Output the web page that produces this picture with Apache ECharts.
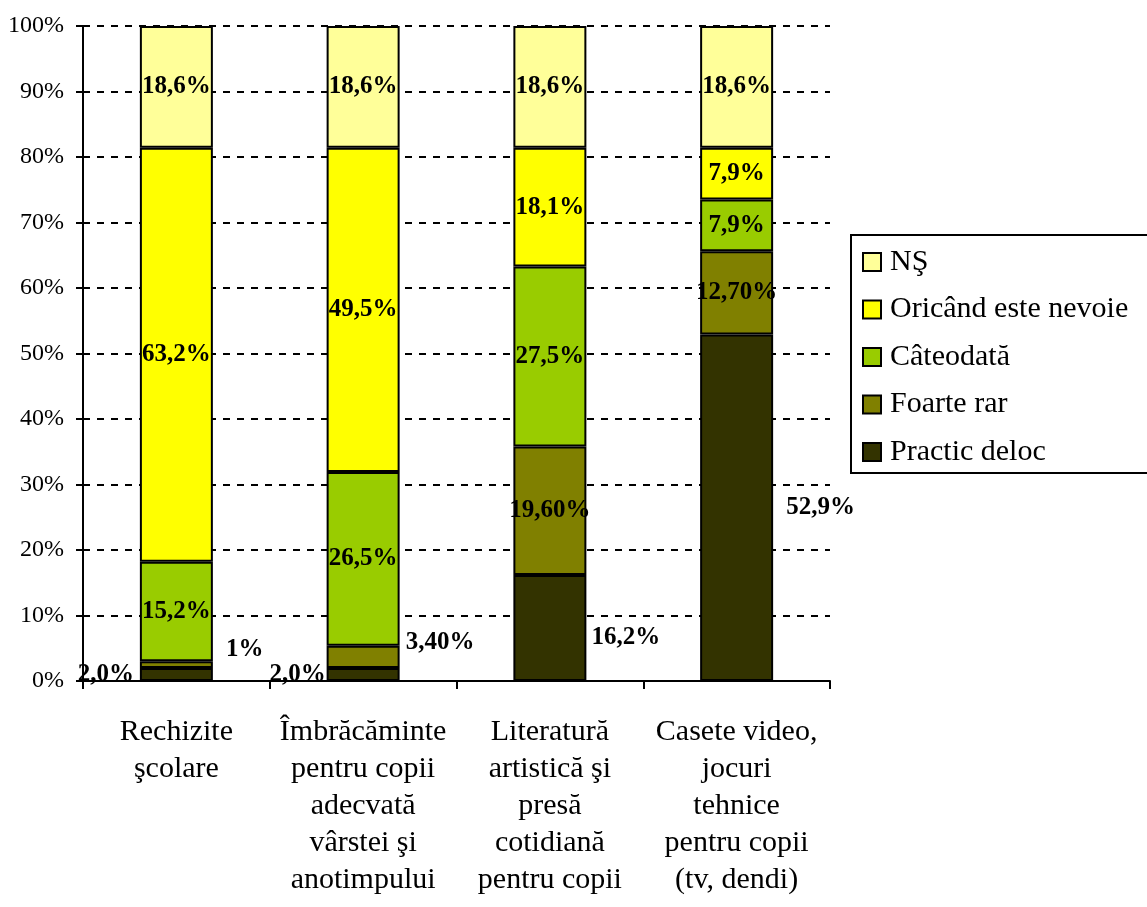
<!DOCTYPE html>
<html>
<head>
<meta charset="utf-8">
<script src="https://cdn.jsdelivr.net/npm/echarts@6/dist/echarts.min.js"></script>
<style>
  html, body { margin: 0; background: #fff; }
  #chart { width: 1147px; height: 907px; }
</style>
</head>
<body>
<div id="chart"></div>
<script>
// categorii
const categories = [
  'Rechizite\nşcolare',
  'Îmbrăcăminte\npentru copii\nadecvată\nvârstei şi\nanotimpului',
  'Literatură\nartistică şi\npresă\ncotidiană\npentru copii',
  'Casete video,\njocuri\ntehnice\npentru copii\n(tv, dendi)'
]

// valori (%), de jos in sus
const practicDeloc = [2.0, 2.0, 16.2, 52.9]
const foarteRar = [1.0, 3.4, 19.6, 12.7]
const cateodata = [15.2, 26.5, 27.5, 7.9]
const oricand = [63.2, 49.5, 18.1, 7.9]
const ns = [18.6, 18.6, 18.6, 18.6]

// etichetele asa cum apar in grafic
const practicDelocLabels = ['2,0%', '2,0%', '16,2%', '52,9%']
const foarteRarLabels = ['1%', '3,40%', '19,60%', '12,70%']
const cateodataLabels = ['15,2%', '26,5%', '27,5%', '7,9%']
const oricandLabels = ['63,2%', '49,5%', '18,1%', '7,9%']
const nsLabels = ['18,6%', '18,6%', '18,6%', '18,6%']

const serif = '"Liberation Serif", "Times New Roman", serif'

// etichete puse in afara barei
const outside = {
  'Practic deloc': [
    { position: 'left', distance: 6 },
    { position: 'left', distance: 1 },
    { position: 'right', distance: 5, offset: [0, 10] },
    { position: 'right', distance: 13 }
  ],
  'Foarte rar': [
    { position: 'right', distance: 13, offset: [0, -15] },
    { position: 'right', distance: 6, offset: [0, -14] },
    null,
    null
  ]
}

const makeSeries = (name, values, labels, color) => ({
  name,
  type: 'bar',
  stack: 'total',
  barWidth: 73,
  itemStyle: { color, borderColor: '#000', borderWidth: 2 },
  label: {
    show: true,
    position: 'inside',
    fontFamily: serif,
    fontWeight: 'bold',
    fontSize: 25,
    color: '#000'
  },
  data: values.map((v, i) => {
    const item = { value: v }
    const o = outside[name] && outside[name][i]
    item.label = Object.assign({ formatter: labels[i] }, o || {})
    return item
  })
})

const chart = echarts.init(document.getElementById('chart'))

chart.setOption({
  animation: false,
  grid: { left: 83, right: 317, top: 26, bottom: 226 },
  legend: {
    orient: 'vertical',
    left: 851,
    top: 235,
    data: ['NŞ', 'Oricând este nevoie', 'Câteodată', 'Foarte rar', 'Practic deloc'],
    icon: 'rect',
    itemWidth: 18,
    itemHeight: 18,
    itemGap: 17.5,
    padding: [12, 40, 6, 11],
    borderColor: '#000',
    borderWidth: 2,
    textStyle: {
      fontFamily: serif,
      fontSize: 30,
      lineHeight: 30,
      color: '#000',
      padding: [0, 0, 0, 4]
    }
  },
  xAxis: {
    type: 'category',
    data: categories,
    axisLine: { lineStyle: { color: '#000', width: 2 } },
    axisTick: { show: true, length: 8, lineStyle: { color: '#000', width: 2 } },
    axisLabel: {
      interval: 0,
      margin: 33,
      fontFamily: serif,
      fontSize: 30,
      lineHeight: 37,
      color: '#000',
      align: 'center'
    }
  },
  yAxis: {
    type: 'value',
    min: 0,
    max: 100,
    interval: 10,
    axisLine: { show: true, lineStyle: { color: '#000', width: 2 } },
    axisTick: { show: true, length: 7, lineStyle: { color: '#000', width: 2 } },
    axisLabel: {
      formatter: '{value}%',
      margin: 19,
      fontFamily: serif,
      fontSize: 24,
      color: '#000'
    },
    splitLine: {
      show: true,
      lineStyle: { color: '#000', width: 2, type: [7, 7] }
    }
  },
  series: [
    makeSeries('Practic deloc', practicDeloc, practicDelocLabels, '#333300'),
    makeSeries('Foarte rar', foarteRar, foarteRarLabels, '#808000'),
    makeSeries('Câteodată', cateodata, cateodataLabels, '#99CC00'),
    makeSeries('Oricând este nevoie', oricand, oricandLabels, '#FFFF00'),
    makeSeries('NŞ', ns, nsLabels, '#FFFF99')
  ]
})
</script>
</body>
</html>
